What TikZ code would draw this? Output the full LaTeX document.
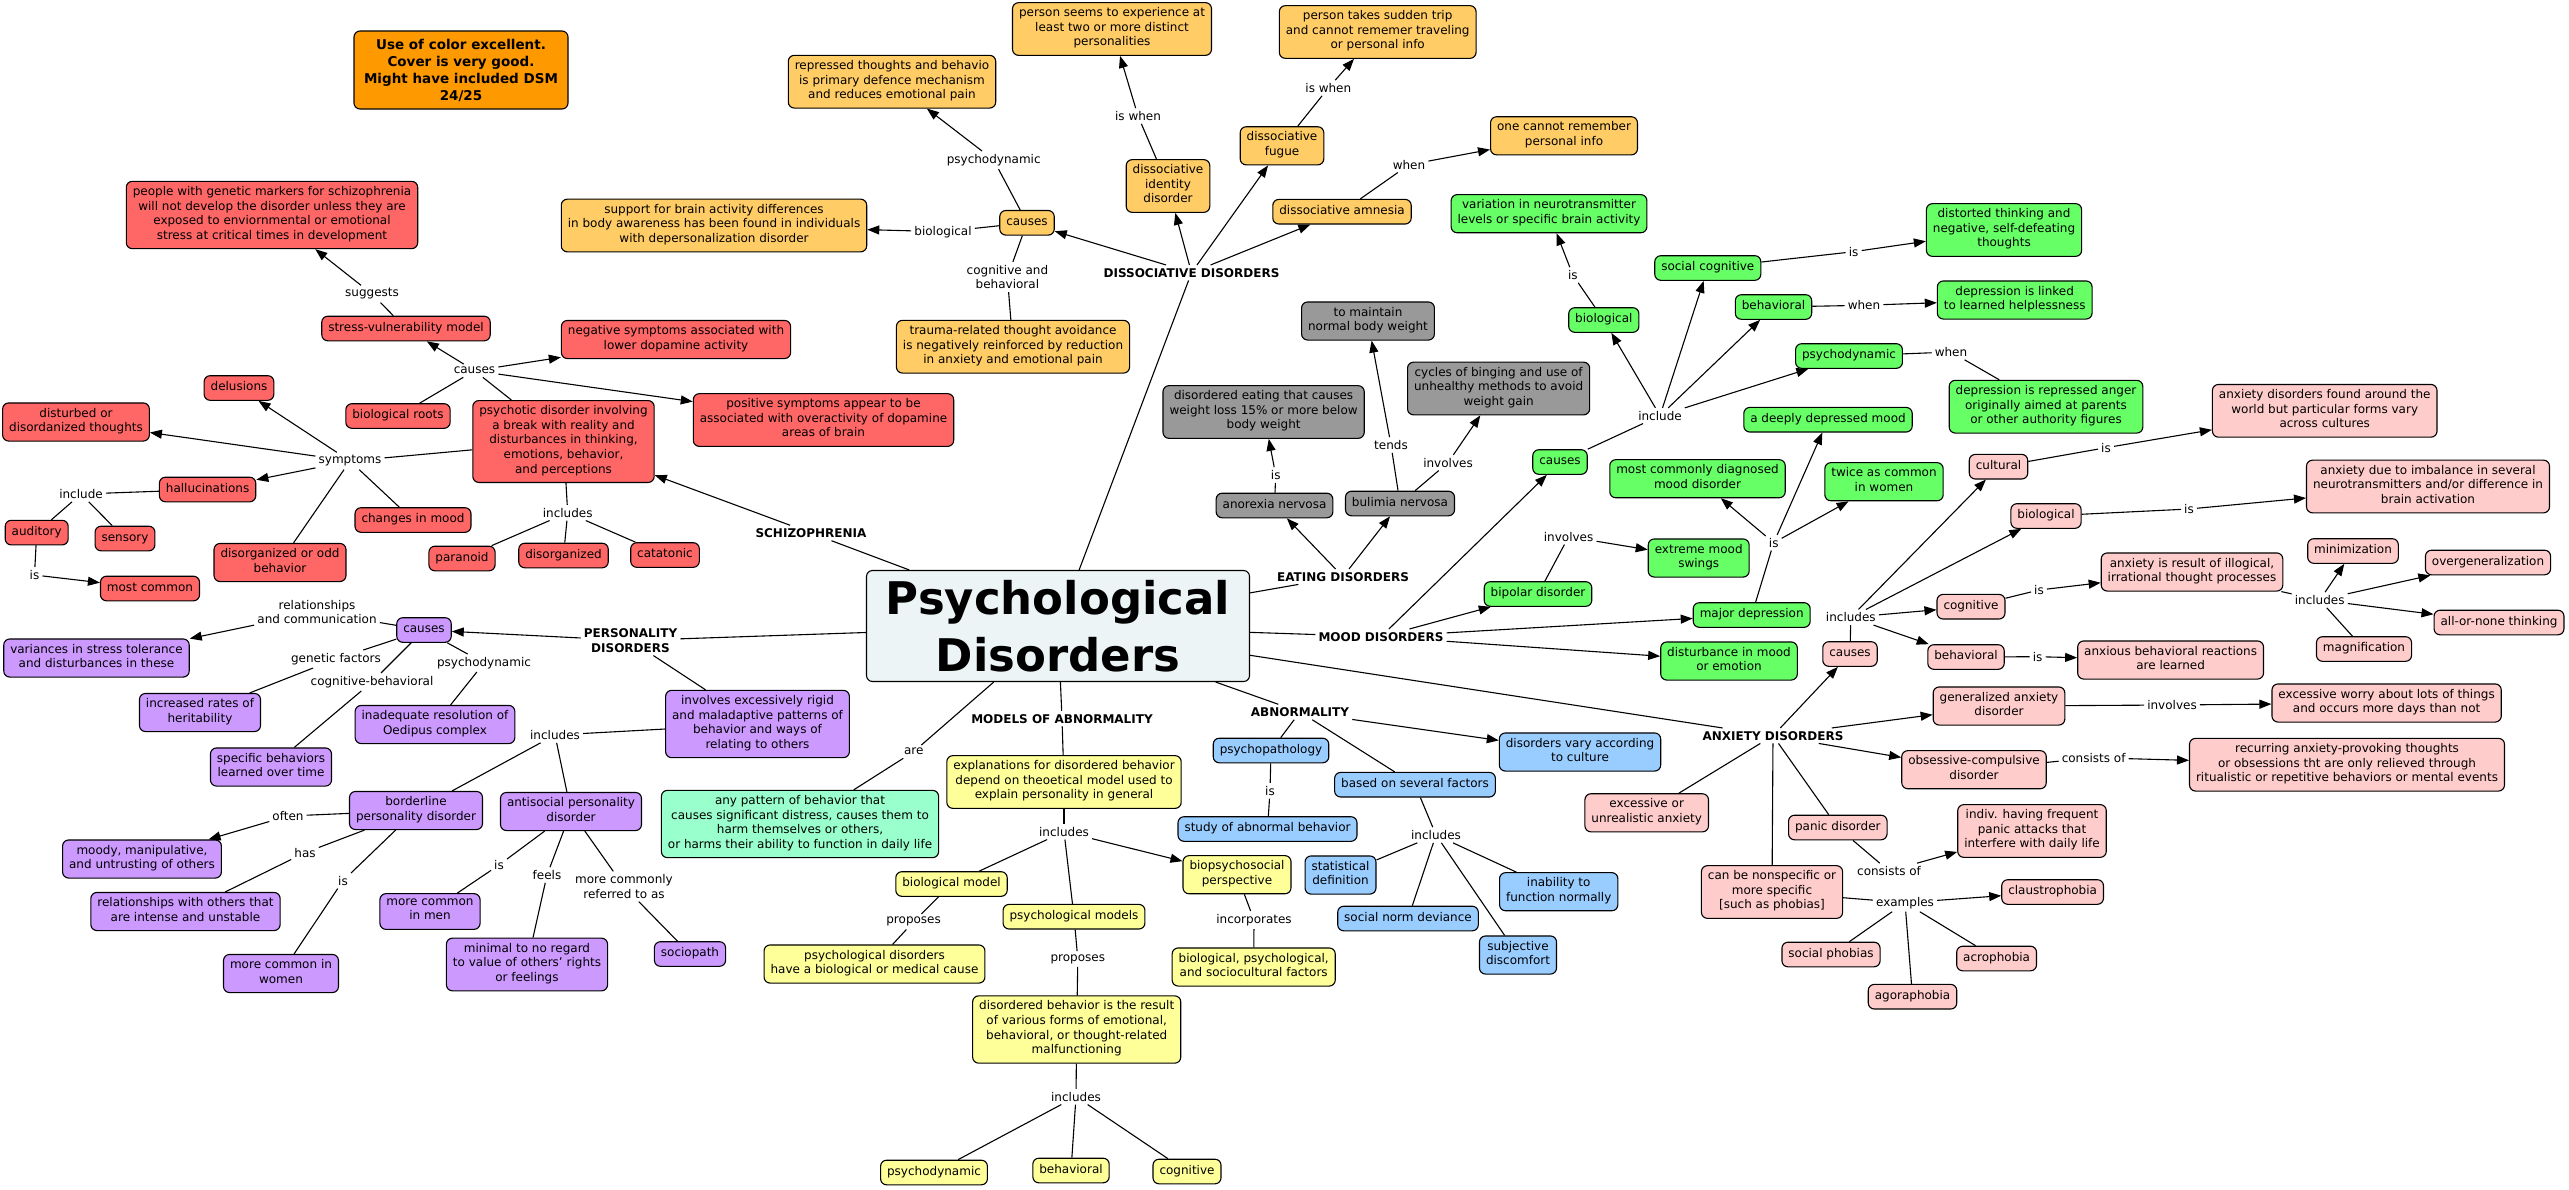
\documentclass[tikz,border=0pt]{standalone}
\usepackage{fontspec}
\setmainfont{DejaVu Sans}
\usetikzlibrary{arrows.meta}
\definecolor{cSz}{RGB}{255,102,102}
\definecolor{cDs}{RGB}{255,204,102}
\definecolor{cEt}{RGB}{153,153,153}
\definecolor{cMd}{RGB}{102,255,102}
\definecolor{cAx}{RGB}{255,204,204}
\definecolor{cAb}{RGB}{153,204,255}
\definecolor{cMl}{RGB}{255,255,153}
\definecolor{cPr}{RGB}{204,153,255}
\definecolor{cAp}{RGB}{153,255,204}
\definecolor{cCen}{RGB}{237,244,246}
\definecolor{cNote}{RGB}{255,153,0}
\newcommand\myfs{\fontsize{12}{14.6}\selectfont}
\newcommand\myhb{\bfseries\fontsize{12}{14.6}\selectfont}
\begin{document}
\begin{tikzpicture}[x=1pt,y=-1pt,
 bx/.style={draw=black, line width=1.1pt, rounded corners=6pt, align=center, inner xsep=6.5pt, inner ysep=5pt, font=\myfs},
 box/.style={bx, execute at begin node=\strut, execute at end node=\strut},
 sz/.style={box, fill=cSz}, ds/.style={box, fill=cDs}, et/.style={box, fill=cEt},
 md/.style={box, fill=cMd}, ax/.style={box, fill=cAx}, ab/.style={box, fill=cAb},
 ml/.style={box, fill=cMl}, pr/.style={box, fill=cPr}, ap/.style={box, fill=cAp},
 lab/.style={font=\myfs, align=center, inner sep=3pt},
 hd/.style={font=\myhb, align=center, inner sep=3pt},
 ln/.style={line width=1.1pt},
 ar/.style={ln, -{Triangle[length=12pt,width=9pt]}}]
\useasboundingbox (0,0) rectangle (2569,1189);
\fill[white] (0,0) rectangle (2569,1189);

% note
\node[bx, fill=cNote, font=\bfseries\fontsize{13.5}{17}\selectfont, minimum width=214pt, minimum height=78pt] (note) at (461,70) {Use of color excellent.\\Cover is very good.\\Might have included DSM\\24/25};

% central
\node[bx, fill=cCen, font=\bfseries\fontsize{45}{57}\selectfont, minimum width=383pt, minimum height=111pt, inner ysep=2pt] (PD) at (1058,626) {Psychological\\Disorders};

% ---------- schizophrenia
\node[sz] (gen) at (272,215) {people with genetic markers for schizophrenia\\will not develop the disorder unless they are\\exposed to enviornmental or emotional\\stress at critical times in development};
\node[sz] (svm) at (406,328.5) {stress-vulnerability model};
\node[sz] (neg) at (676,339.5) {negative symptoms associated with\\lower dopamine activity};
\node[sz] (pos) at (823.5,420) {positive symptoms appear to be\\associated with overactivity of dopamine\\areas of brain};
\node[sz] (del) at (239,388) {delusions};
\node[sz] (bio) at (398,416) {biological roots};
\node[sz] (psy) at (563.5,441.5) {psychotic disorder involving\\a break with reality and\\disturbances in thinking,\\emotions, behavior,\\and perceptions};
\node[sz] (dist) at (76,422) {disturbed or\\disordanized thoughts};
\node[sz] (hall) at (207.6,489.5) {hallucinations};
\node[sz] (aud) at (36.7,532.6) {auditory};
\node[sz] (sen) at (125,538.5) {sensory};
\node[sz] (mc) at (150,588.5) {most common};
\node[sz] (chm) at (413,520) {changes in mood};
\node[sz] (dob) at (280,562.5) {disorganized or odd\\behavior};
\node[sz] (par) at (462,558.5) {paranoid};
\node[sz] (dorg) at (563.5,555.5) {disorganized};
\node[sz] (cat) at (665,555) {catatonic};
\node[lab] (lSugg) at (372,294) {suggests};
\node[lab] (lCau) at (474.5,370.7) {causes};
\node[lab] (lSym) at (350,461) {symptoms};
\node[lab] (lInc) at (81,494) {include};
\node[lab] (lIs) at (34.5,575) {is};
\node[lab] (lIncs) at (567.7,512.7) {includes};
\node[hd] (SCH) at (811,533) {SCHIZOPHRENIA};

% ---------- personality
\node[pr] (pcau) at (424,630) {causes};
\node[pr] (var) at (96.5,658) {variances in stress tolerance\\and disturbances in these};
\node[pr] (inc) at (200,712.5) {increased rates of\\heritability};
\node[pr] (ina) at (435,724.5) {inadequate resolution of\\Oedipus complex};
\node[pr] (spb) at (271,767) {specific behaviors\\learned over time};
\node[pr] (inv) at (757.5,724) {involves excessively rigid\\and maladaptive patterns of\\behavior and ways of\\relating to others};
\node[pr] (bord) at (416,810.5) {borderline\\personality disorder};
\node[pr] (anti) at (571,811.5) {antisocial personality\\disorder};
\node[pr] (moody) at (142,859) {moody, manipulative,\\and untrusting of others};
\node[pr] (rel) at (185.5,911.5) {relationships with others that\\are intense and unstable};
\node[pr] (mcw) at (281,973.5) {more common in\\women};
\node[pr] (mcm) at (430,911.5) {more common\\in men};
\node[pr] (min) at (527,964.5) {minimal to no regard\\to value of others' rights\\or feelings};
\node[pr] (soc) at (690,954) {sociopath};
\node[hd] (PER) at (630.5,640.5) {PERSONALITY\\DISORDERS};
\node[lab] (lRel) at (317,612) {relationships\\and communication};
\node[lab] (lGen) at (336,659) {genetic factors};
\node[lab] (lCog) at (372,682) {cognitive-behavioral};
\node[lab] (lPsd) at (484,663) {psychodynamic};
\node[lab] (lIncP) at (555,735) {includes};
\node[lab] (lOft) at (288,816) {often};
\node[lab] (lHas) at (305,852.7) {has};
\node[lab] (lIsB) at (343,880.7) {is};
\node[lab] (lIsA) at (499,865) {is};
\node[lab] (lFeel) at (547,875) {feels};
\node[lab] (lMore) at (624,886.5) {more commonly\\referred to as};
\node[ap] (any) at (800,824) {any pattern of behavior that\\causes significant distress, causes them to\\harm themselves or others,\\or harms their ability to function in daily life};
\node[lab] (lAre) at (913.7,751.7) {are};

% ---------- dissociative
\node[ds] (rep) at (892,81.7) {repressed thoughts and behavio\\is primary defence mechanism\\and reduces emotional pain};
\node[ds] (pse) at (1112,29) {person seems to experience at\\least two or more distinct\\personalities};
\node[ds] (pta) at (1377.7,32) {person takes sudden trip\\and cannot rememer traveling\\or personal info};
\node[ds] (did) at (1168,186) {dissociative\\identity\\disorder};
\node[ds] (fug) at (1282,145.8) {dissociative\\fugue};
\node[ds] (one) at (1564,135.8) {one cannot remember\\personal info};
\node[ds] (amn) at (1342,211.7) {dissociative amnesia};
\node[ds] (dcau) at (1027,222.8) {causes};
\node[ds] (sup) at (714,225.5) {support for brain activity differences\\in body awareness has been found in individuals\\with depersonalization disorder};
\node[ds] (tra) at (1013,346.7) {trauma-related thought avoidance\\is negatively reinforced by reduction\\in anxiety and emotional pain};
\node[lab] (lIsW1) at (1138,116) {is when};
\node[lab] (lIsW2) at (1328.3,88) {is when};
\node[lab] (lPsyD) at (993.7,160) {psychodynamic};
\node[lab] (lWhenA) at (1409,164.7) {when};
\node[lab] (lBioD) at (943,231.7) {biological};
\node[lab] (lCB) at (1007.4,277) {cognitive and\\behavioral};
\node[hd] (DIS) at (1191.5,272.7) {DISSOCIATIVE DISORDERS};

% ---------- eating
\node[et] (tmw) at (1368,321) {to maintain\\normal body weight};
\node[et] (cyc) at (1498.6,388.5) {cycles of binging and use of\\unhealthy methods to avoid\\weight gain};
\node[et] (dea) at (1263.6,412) {disordered eating that causes\\weight loss 15\% or more below\\body weight};
\node[et] (ano) at (1274.5,505.5) {anorexia nervosa};
\node[et] (bul) at (1400,503.5) {bulimia nervosa};
\node[lab] (lIsE) at (1275.7,475) {is};
\node[lab] (lTends) at (1391,445) {tends};
\node[lab] (lInvE) at (1448,462.7) {involves};
\node[hd] (EAT) at (1343,576.7) {EATING DISORDERS};

% ---------- mood
\node[md] (mcau) at (1560,462) {causes};
\node[md] (mbio) at (1603.8,320) {biological};
\node[md] (vari) at (1549,213.7) {variation in neurotransmitter\\levels or specific brain activity};
\node[md] (scog) at (1707.8,268) {social cognitive};
\node[md] (dist2) at (2004,230) {distorted thinking and\\negative, self-defeating\\thoughts};
\node[md] (mbeh) at (1773.5,307) {behavioral};
\node[md] (dlh) at (2014.7,300) {depression is linked\\to learned helplessness};
\node[md] (mpsy) at (1849,356) {psychodynamic};
\node[md] (dra) at (2046,406.7) {depression is repressed anger\\originally aimed at parents\\or other authority figures};
\node[md] (ddm) at (1828,419.7) {a deeply depressed mood};
\node[md] (mcd) at (1697.5,478.7) {most commonly diagnosed\\mood disorder};
\node[md] (twi) at (1884,481.7) {twice as common\\in women};
\node[md] (ems) at (1698.7,558) {extreme mood\\swings};
\node[md] (bip) at (1538,594) {bipolar disorder};
\node[md] (mdep) at (1751.7,615) {major depression};
\node[md] (dme) at (1729,661) {disturbance in mood\\or emotion};
\node[lab] (lIncl) at (1660,415.7) {include};
\node[lab] (lIsBio) at (1572.8,275) {is};
\node[lab] (lIsSC) at (1853.6,251.7) {is};
\node[lab] (lWhenB) at (1864,305.3) {when};
\node[lab] (lWhenP) at (1951,352) {when};
\node[lab] (lIsM) at (1773.7,542.7) {is};
\node[lab] (lInvB) at (1568.6,536.7) {involves};
\node[hd] (MOOD) at (1381,636.7) {MOOD DISORDERS};

% ---------- anxiety
\node[ax] (acul) at (1998.5,466.7) {cultural};
\node[ax] (adf) at (2324.7,410.8) {anxiety disorders found around the\\world but particular forms vary\\across cultures};
\node[ax] (abio) at (2046,516) {biological};
\node[ax] (adi) at (2428,486.5) {anxiety due to imbalance in several\\neurotransmitters and/or difference in\\brain activation};
\node[ax] (acog) at (1971,606.7) {cognitive};
\node[ax] (air) at (2192,572) {anxiety is result of illogical,\\irrational thought processes};
\node[ax] (amin) at (2353,551) {minimization};
\node[ax] (aov) at (2488,562.5) {overgeneralization};
\node[ax] (aall) at (2499,622.5) {all-or-none thinking};
\node[ax] (amag) at (2364,649) {magnification};
\node[ax] (acau) at (1850,654) {causes};
\node[ax] (abeh) at (1966,657) {behavioral};
\node[ax] (abr) at (2170.6,660) {anxious behavioral reactions\\are learned};
\node[ax] (gad) at (1999,706) {generalized anxiety\\disorder};
\node[ax] (ew) at (2386.6,703) {excessive worry about lots of things\\and occurs more days than not};
\node[ax] (ocd) at (1974,769.7) {obsessive-compulsive\\disorder};
\node[ax] (rec) at (2347,764.7) {recurring anxiety-provoking thoughts\\or obsessions tht are only relieved through\\ritualistic or repetitive behaviors or mental events};
\node[ax] (eua) at (1646.7,812.8) {excessive or\\unrealistic anxiety};
\node[ax] (pan) at (1837.8,827.5) {panic disorder};
\node[ax] (ind) at (2032,831) {indiv. having frequent\\panic attacks that\\interfere with daily life};
\node[ax] (cbn) at (1772,892) {can be nonspecific or\\more specific\\{[}such as phobias{]}};
\node[ax] (cla) at (2052.6,892) {claustrophobia};
\node[ax] (sph) at (1831,954.5) {social phobias};
\node[ax] (acr) at (1996.6,958.5) {acrophobia};
\node[ax] (ago) at (1912.5,996.7) {agoraphobia};
\node[lab] (lIsCu) at (2106,447.7) {is};
\node[lab] (lIsBi) at (2189,509) {is};
\node[lab] (lIsCo) at (2039,590) {is};
\node[lab] (lIncA) at (2319.7,600) {includes};
\node[lab] (lIncC) at (1850.8,617.3) {includes};
\node[lab] (lIsBe) at (2037.6,656.7) {is};
\node[lab] (lInvG) at (2172,705) {involves};
\node[lab] (lConO) at (2093.6,757.7) {consists of};
\node[lab] (lConP) at (1889,871) {consists of};
\node[lab] (lEx) at (1905,902.7) {examples};
\node[hd] (ANX) at (1773,735.7) {ANXIETY DISORDERS};

% ---------- abnormality
\node[ab] (ppath) at (1271,750.5) {psychopathology};
\node[ab] (dvc) at (1580,752) {disorders vary according\\to culture};
\node[ab] (bsf) at (1415,784.7) {based on several factors};
\node[ab] (sab) at (1267.5,829) {study of abnormal behavior};
\node[ab] (sdef) at (1340.5,875) {statistical\\definition};
\node[ab] (snd) at (1408,918.5) {social norm deviance};
\node[ab] (inab) at (1558.7,891.7) {inability to\\function normally};
\node[ab] (sdis) at (1518,955) {subjective\\discomfort};
\node[hd] (ABN) at (1300,712) {ABNORMALITY};
\node[lab] (lIsAb) at (1270,790.7) {is};
\node[lab] (lIncF) at (1436,835) {includes};

% ---------- models
\node[hd] (MOD) at (1062,718.7) {MODELS OF ABNORMALITY};
\node[ml] (exp) at (1064,782) {explanations for disordered behavior\\depend on theoetical model used to\\explain personality in general};
\node[lab] (lIncM) at (1064,831.7) {includes};
\node[ml] (bmod) at (951.5,884) {biological model};
\node[ml] (pmod) at (1074,916.7) {psychological models};
\node[ml] (bps) at (1237,874.7) {biopsychosocial\\perspective};
\node[lab] (lProB) at (913.6,921.7) {proposes};
\node[ml] (pdb) at (874.5,964) {psychological disorders\\have a biological or medical cause};
\node[lab] (lProP) at (1077.8,959) {proposes};
\node[lab] (lIncorp) at (1254,920) {incorporates};
\node[ml] (bpsf) at (1253.7,967) {biological, psychological,\\and sociocultural factors};
\node[ml] (dbr) at (1076.7,1029.5) {disordered behavior is the result\\of various forms of emotional,\\behavioral, or thought-related\\malfunctioning};
\node[lab] (lIncD) at (1076,1096.7) {includes};
\node[ml] (mpd) at (934,1172.5) {psychodynamic};
\node[ml] (mbe) at (1071,1170.5) {behavioral};
\node[ml] (mco) at (1187,1171.5) {cognitive};

% ================= connectors
% schizophrenia
\draw[ln] (PD) -- (SCH); \draw[ar] (SCH) -- (psy);
\draw[ln] (svm) -- (lSugg); \draw[ar] (lSugg) -- (gen);
\draw[ln] (bio) -- (lCau); \draw[ln] (psy) -- (lCau);
\draw[ar] (lCau) -- (svm); \draw[ar] (lCau) -- (neg); \draw[ar] (lCau) -- (pos);
\draw[ln] (psy) -- (lSym);
\draw[ar] (lSym) -- (del); \draw[ar] (lSym) -- (dist); \draw[ar] (lSym) -- (hall);
\draw[ln] (lSym) -- (chm); \draw[ln] (lSym) -- (dob);
\draw[ln] (hall) -- (lInc); \draw[ln] (lInc) -- (aud); \draw[ln] (lInc) -- (sen);
\draw[ln] (aud) -- (lIs); \draw[ar] (lIs) -- (mc);
\draw[ln] (psy) -- (lIncs);
\draw[ln] (lIncs) -- (par); \draw[ln] (lIncs) -- (dorg); \draw[ln] (lIncs) -- (cat);
% personality
\draw[ln] (PD) -- (PER); \draw[ar] (PER) -- (pcau); \draw[ln] (PER) -- (inv);
\draw[ln] (pcau) -- (lRel); \draw[ar] (lRel) -- (var);
\draw[ln] (pcau) -- (lGen); \draw[ln] (lGen) -- (inc);
\draw[ln] (pcau) -- (lCog); \draw[ln] (lCog) -- (spb);
\draw[ln] (pcau) -- (lPsd); \draw[ln] (lPsd) -- (ina);
\draw[ln] (inv) -- (lIncP); \draw[ln] (lIncP) -- (bord); \draw[ln] (lIncP) -- (anti);
\draw[ln] (bord) -- (lOft); \draw[ar] (lOft) -- (moody);
\draw[ln] (bord) -- (lHas); \draw[ln] (lHas) -- (rel);
\draw[ln] (bord) -- (lIsB); \draw[ln] (lIsB) -- (mcw);
\draw[ln] (anti) -- (lIsA); \draw[ln] (lIsA) -- (mcm);
\draw[ln] (anti) -- (lFeel); \draw[ln] (lFeel) -- (min);
\draw[ln] (anti) -- (lMore); \draw[ln] (lMore) -- (soc);
\draw[ln] (PD) -- (lAre); \draw[ln] (lAre) -- (any);
% dissociative
\draw[ln] (PD) -- (DIS);
\draw[ar] (DIS) -- (dcau); \draw[ar] (DIS) -- (did); \draw[ar] (DIS) -- (fug); \draw[ar] (DIS) -- (amn);
\draw[ln] (dcau) -- (lPsyD); \draw[ar] (lPsyD) -- (rep);
\draw[ln] (dcau) -- (lBioD); \draw[ar] (lBioD) -- (sup);
\draw[ln] (dcau) -- (lCB); \draw[ln] (lCB) -- (tra);
\draw[ln] (did) -- (lIsW1); \draw[ar] (lIsW1) -- (pse);
\draw[ln] (fug) -- (lIsW2); \draw[ar] (lIsW2) -- (pta);
\draw[ln] (amn) -- (lWhenA); \draw[ar] (lWhenA) -- (one);
% eating
\draw[ln] (PD) -- (EAT); \draw[ar] (EAT) -- (ano); \draw[ar] (EAT) -- (bul);
\draw[ln] (ano) -- (lIsE); \draw[ar] (lIsE) -- (dea);
\draw[ln] (bul) -- (lTends); \draw[ar] (lTends) -- (tmw);
\draw[ln] (bul) -- (lInvE); \draw[ar] (lInvE) -- (cyc);
% mood
\draw[ln] (PD) -- (MOOD);
\draw[ar] (MOOD) -- (mcau); \draw[ar] (MOOD) -- (bip); \draw[ar] (MOOD) -- (mdep); \draw[ar] (MOOD) -- (dme);
\draw[ln] (mcau) -- (lIncl);
\draw[ar] (lIncl) -- (mbio); \draw[ar] (lIncl) -- (scog); \draw[ar] (lIncl) -- (mbeh); \draw[ar] (lIncl) -- (mpsy);
\draw[ln] (mbio) -- (lIsBio); \draw[ar] (lIsBio) -- (vari);
\draw[ln] (scog) -- (lIsSC); \draw[ar] (lIsSC) -- (dist2);
\draw[ln] (mbeh) -- (lWhenB); \draw[ar] (lWhenB) -- (dlh);
\draw[ln] (mpsy) -- (lWhenP); \draw[ln] (lWhenP) -- (dra);
\draw[ln] (bip) -- (lInvB); \draw[ar] (lInvB) -- (ems);
\draw[ln] (mdep) -- (lIsM);
\draw[ar] (lIsM) -- (mcd); \draw[ar] (lIsM) -- (ddm); \draw[ar] (lIsM) -- (twi);
% anxiety
\draw[ln] (PD) -- (ANX);
\draw[ar] (ANX) -- (acau); \draw[ar] (ANX) -- (gad); \draw[ar] (ANX) -- (ocd);
\draw[ln] (ANX) -- (eua); \draw[ln] (ANX) -- (cbn); \draw[ln] (ANX) -- (pan);
\draw[ln] (acau) -- (lIncC);
\draw[ar] (lIncC) -- (acul); \draw[ar] (lIncC) -- (abio); \draw[ar] (lIncC) -- (acog); \draw[ar] (lIncC) -- (abeh);
\draw[ln] (acul) -- (lIsCu); \draw[ar] (lIsCu) -- (adf);
\draw[ln] (abio) -- (lIsBi); \draw[ar] (lIsBi) -- (adi);
\draw[ln] (acog) -- (lIsCo); \draw[ar] (lIsCo) -- (air);
\draw[ln] (air) -- (lIncA);
\draw[ar] (lIncA) -- (amin); \draw[ar] (lIncA) -- (aov); \draw[ar] (lIncA) -- (aall); \draw[ln] (lIncA) -- (amag);
\draw[ln] (abeh) -- (lIsBe); \draw[ar] (lIsBe) -- (abr);
\draw[ln] (gad) -- (lInvG); \draw[ar] (lInvG) -- (ew);
\draw[ln] (ocd) -- (lConO); \draw[ar] (lConO) -- (rec);
\draw[ln] (pan) -- (lConP); \draw[ar] (lConP) -- (ind);
\draw[ln] (cbn) -- (lEx); \draw[ar] (lEx) -- (cla);
\draw[ln] (lEx) -- (sph); \draw[ln] (lEx) -- (ago); \draw[ln] (lEx) -- (acr);
% abnormality
\draw[ln] (PD) -- (ABN); \draw[ln] (ABN) -- (ppath); \draw[ln] (ABN) -- (bsf); \draw[ar] (ABN) -- (dvc);
\draw[ln] (ppath) -- (lIsAb); \draw[ln] (lIsAb) -- (sab);
\draw[ln] (bsf) -- (lIncF);
\draw[ln] (lIncF) -- (sdef); \draw[ln] (lIncF) -- (snd); \draw[ln] (lIncF) -- (sdis); \draw[ln] (lIncF) -- (inab);
% models
\draw[ln] (PD) -- (MOD); \draw[ln] (MOD) -- (exp);
\draw[ln] (exp) -- (lIncM);
\draw[ln] (lIncM) -- (bmod); \draw[ln] (lIncM) -- (pmod); \draw[ar] (lIncM) -- (bps);
\draw[ln] (bmod) -- (lProB); \draw[ln] (lProB) -- (pdb);
\draw[ln] (pmod) -- (lProP); \draw[ln] (lProP) -- (dbr);
\draw[ln] (bps) -- (lIncorp); \draw[ln] (lIncorp) -- (bpsf);
\draw[ln] (dbr) -- (lIncD);
\draw[ln] (lIncD) -- (mpd); \draw[ln] (lIncD) -- (mbe); \draw[ln] (lIncD) -- (mco);
\end{tikzpicture}
\end{document}
